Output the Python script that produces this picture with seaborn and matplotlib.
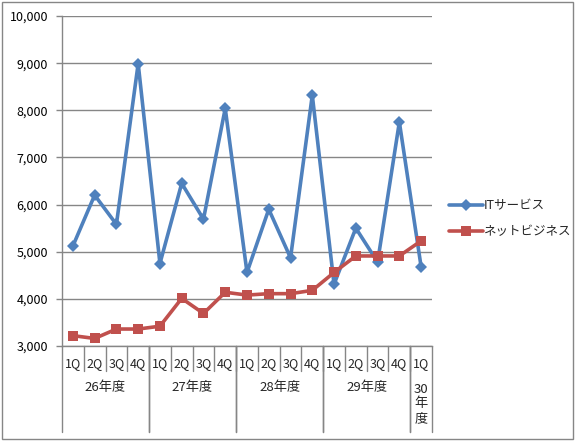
import numpy as np
import pandas as pd
import matplotlib
matplotlib.use("Agg")
import matplotlib.pyplot as plt
import matplotlib.transforms as mtransforms
from matplotlib.patches import Rectangle
from matplotlib.ticker import FuncFormatter
import seaborn as sns

# --- data ---
quarters = ["1Q", "2Q", "3Q", "4Q",
            "1Q", "2Q", "3Q", "4Q",
            "1Q", "2Q", "3Q", "4Q",
            "1Q", "2Q", "3Q", "4Q",
            "1Q"]
years = ["26年度", "27年度", "28年度", "29年度", "30\n年\n度"]
year_sizes = [4, 4, 4, 4, 1]

it_service = [5120, 6200, 5580, 8990,
              4750, 6450, 5690, 8040,
              4560, 5900, 4870, 8320,
              4310, 5500, 4780, 7750,
              4680]
net_business = [3220, 3160, 3360, 3360,
                3420, 4010, 3690, 4140,
                4080, 4110, 4110, 4180,
                4560, 4910, 4910, 4910,
                5230]

series_names = ["ITサービス", "ネットビジネス"]
colors = {"ITサービス": "#4F81BD", "ネットビジネス": "#C0504D"}
markers = {"ITサービス": "D", "ネットビジネス": "s"}

df = pd.DataFrame({
    "pos": list(range(len(quarters))) * 2,
    "value": it_service + net_business,
    "series": [series_names[0]] * len(quarters) + [series_names[1]] * len(quarters),
})

sns.set_theme(style="white")
plt.rcParams["font.family"] = ["Noto Sans CJK JP", "DejaVu Sans"]
grey = "#868686"

fig = plt.figure(figsize=(5.78, 4.46), dpi=100)
ax = fig.add_axes([62 / 578, 1 - 346 / 446, 370 / 578, 330 / 446])

for name in series_names:
    sub = df[df["series"] == name]
    sns.lineplot(data=sub, x="pos", y="value", ax=ax, color=colors[name],
                 marker=markers[name], markersize=7 if name == series_names[1] else 6.5,
                 markeredgewidth=0, lw=2.6, label=name, sort=False)

ax.set_xlim(-0.5, len(quarters) - 0.5)
ax.set_ylim(3000, 10000)
ax.set_yticks(np.arange(3000, 10001, 1000))
ax.yaxis.set_major_formatter(FuncFormatter(lambda v, p: f"{int(v):,}"))
ax.yaxis.grid(True, color=grey, lw=1)
ax.set_xticks([])
ax.set_xlabel("")
ax.set_ylabel("")
ax.tick_params(axis="y", which="major", left=True, length=4, width=1,
               color=grey, labelsize=9, pad=6, labelcolor="black")
for s in ["top", "right"]:
    ax.spines[s].set_visible(False)
for s in ["left", "bottom"]:
    ax.spines[s].set_color(grey)
    ax.spines[s].set_linewidth(1)

# multi-level category axis
trans = mtransforms.blended_transform_factory(ax.transData, ax.transAxes)
h = 330.0
for i, q in enumerate(quarters):
    ax.text(i, -18 / h, q, transform=trans, ha="center", va="center", fontsize=9)
    if i > 0:
        ax.plot([i - 0.5, i - 0.5], [0, -25 / h], transform=trans, color=grey,
                lw=1, clip_on=False)

start = 0
for label, n in zip(years, year_sizes):
    mid = start + (n - 1) / 2
    if "\n" in label:
        ax.text(mid, -58 / h, label, transform=trans, ha="center", va="center",
                fontsize=9.5, linespacing=1.15)
    else:
        ax.text(mid, -42 / h, label, transform=trans, ha="center", va="center",
                fontsize=9.5)
    for xb in (start - 0.5, start + n - 0.5):
        ax.plot([xb, xb], [0, -86 / h], transform=trans, color=grey,
                lw=1, clip_on=False)
    start += n

ax.legend(loc="center left", bbox_to_anchor=(449 / 578, 1 - 219 / 446),
          bbox_transform=fig.transFigure, frameon=False, fontsize=9,
          handlelength=2.7, handletextpad=0.1, labelspacing=1.0,
          borderpad=0, borderaxespad=0)

fig.patches.append(Rectangle((2 / 578, 1 - 439 / 446), 571 / 578, 437 / 446,
                             transform=fig.transFigure, fill=False,
                             edgecolor=grey, lw=1))

fig.savefig("out.png", dpi=100, facecolor="white")
